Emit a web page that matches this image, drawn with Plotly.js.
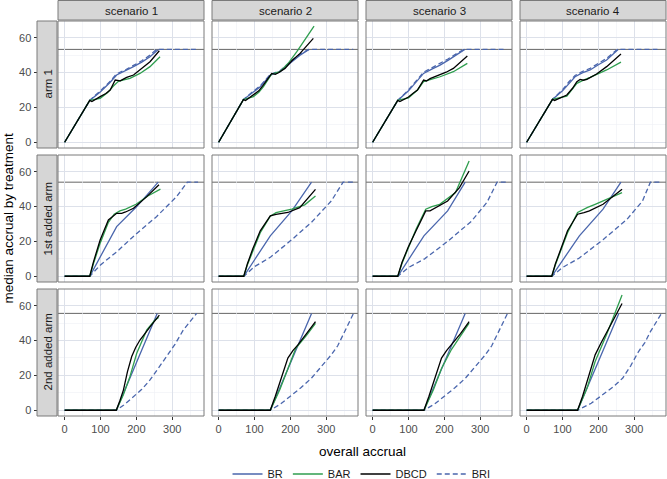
<!DOCTYPE html>
<html>
<head>
<meta charset="utf-8">
<script src="https://cdn.plot.ly/plotly-3.0.1.min.js"></script>
<style>html,body{margin:0;padding:0;background:#fff;}#chart{width:667px;height:479px;}</style>
</head>
<body>
<div id="chart"></div>
<script>
// ---------- data ----------
const scenarios = ['scenario 1', 'scenario 2', 'scenario 3', 'scenario 4'];
const arms = ['arm 1', '1st added arm', '2nd added arm'];
const designs = ['BR', 'BAR', 'DBCD', 'BRI'];
const targetByArm = [53.3, 54.0, 55.6];
const xTicks = [0, 100, 200, 300];
const yTicks = [0, 20, 40, 60];

// arm 1
const arm1_BR_x = [[0,70,100,125,145,170,192,215,238,261],[0,69,95,116,144,171,199,227,252],[0,70,100,122,142,165,188,210,234,257],[0,72,100,118,135,155,177,200,223,255]];
const arm1_BR_y = [[0,24,29,34,38.6,41,43.4,46,49.1,53.3],[0,24.5,28.5,31.9,38.6,40.5,45.3,50,53.3],[0,24,29.5,35,39.5,42,44.3,47,50,53.3],[0,24.6,29.5,34,37.6,39.8,41.5,44.5,47.2,53.3]];
const arm1_BRI_x = [[0,70,100,125,145,170,192,215,238,256,372],[0,69,95,116,144,171,199,227,252,375],[0,70,100,122,142,165,188,210,234,255,372],[0,72,100,118,135,155,177,200,223,253,371]];
const arm1_BRI_y = [[0,24,29.6,34.6,39.3,41.6,44.1,46.8,50,53.3,53.3],[0,24.5,29,32.4,39,41,46,50.6,53.3,53.3],[0,24,30.1,35.7,40.2,42.7,45.1,47.8,50.9,53.3,53.3],[0,24.6,30.1,34.7,38.3,40.6,42.4,45.3,48.2,53.3,53.3]];
const arm1_DBCD_x = [[0,70,76,85,99,115,127,141,155,165,173,192,210,238,264],[0,69,75,97,112,125,148,158,167,185,204,227,264],[0,70,76,88,100,112,125,142,150,160,188,205,225,264],[0,72,78,95,112,128,140,149,158,168,195,223,263]];
const arm1_DBCD_y = [[0,24,23.4,24.6,26.2,28,30,35.7,35.2,36.4,37.2,38.6,41.5,46.2,52.5],[0,24.5,23.9,27.1,29.5,32.9,39.5,39,39.9,42.4,46.8,51,59.6],[0,24,23.4,24.8,26,28,30,35.7,35.2,36.5,38.6,40.2,42.4,49.5],[0,24.6,24,25.6,27.1,31,34.8,36.1,35.6,36.1,39.2,43.4,50.6]];
const arm1_BAR_x = [[0,70,99,120,136,150,165,182,210,238,266],[0,69,97,112,125,148,171,194,218,245,266],[0,70,100,125,142,165,188,225,264],[0,72,112,128,140,160,177,223,263]];
const arm1_BAR_y = [[0,24,25.2,28.5,32.3,35,35.8,36.7,39.5,43.4,49.1],[0,24.5,26.2,28.7,31.9,39.2,40.5,45.3,52,60.6,66.7],[0,24,25.5,30,34.8,36.2,37.6,40.5,45.3],[0,24.6,26.5,30.5,33.8,35.8,37.2,41.5,46]];

// 1st added arm
const arm2_BR_x = [[0,70,145,201,261],[0,70,144,204,259],[0,70,143,209,258],[0,70,147,213,263]];
const arm2_BR_y = [[0,0,28.5,40,54],[0,0,23.2,37.5,54],[0,0,23.2,37.5,54],[0,0,23.2,38.5,54]];
const arm2_BRI_x = [[0,70,100,145,201,256,312,342,372],[0,70,100,145,204,259,314,347,380],[0,70,100,145,209,275,319,347,376],[0,70,100,147,213,279,323,345,378]];
const arm2_BRI_y = [[0,0,6.5,14,24.6,34.2,45.7,54,54],[0,0,5.5,11,21,31,43.2,54,54],[0,0,5,10,20,31.5,42.5,54,54],[0,0,5,10.5,21,32.5,43.2,54,54]];
const arm2_DBCD_x = [[0,70,80,99,122,145,159,170,192,229,263],[0,70,80,95,116,144,160,175,193,226,270],[0,70,82,99,121,148,160,170,209,242,269],[0,70,80,92,114,142,150,160,175,213,266]];
const arm2_DBCD_y = [[0,0,8,20.8,32.3,36.1,36.1,36.9,39,45.7,52.5],[0,0,7,15.6,26.1,34.7,35.5,35.8,36.6,39.4,49.9],[0,0,8,16.6,26.1,37.5,37.5,38.6,43.2,50.9,60.4],[0,0,7,14,26.1,35.6,35.9,36.5,37.5,41.3,49.9]];
const arm2_BAR_x = [[0,70,80,99,122,138,154,170,199,232,267],[0,70,80,95,116,144,160,175,204,240,270],[0,70,82,99,121,148,165,187,231,269],[0,70,80,92,114,142,155,170,191,266]];
const arm2_BAR_y = [[0,0,7,19,31,35.6,37.5,38.5,41.3,46.1,50],[0,0,6.5,14,25,34.5,36.5,37.2,38.5,41,46.1],[0,0,7.5,16,27,38.5,40,41.3,48,66.1],[0,0,6.5,13,25,36.6,38,39.5,41.3,48]];

// 2nd added arm
const arm3_BR_x = [[0,144,258],[0,144,259],[0,143,258],[0,142,257]];
const arm3_BR_y = [[0,0,55.6],[0,0,55.6],[0,0,55.6],[0,0,55.6]];
const arm3_BRI_x = [[0,144,165,192,215,238,260,284,308,331,368],[0,144,172,200,230,259,287,314,332,347,376],[0,143,172,200,230,259,287,314,332,347,376],[0,142,180,213,242,268,290,312,330,345,376]];
const arm3_BRI_y = [[0,0,3,7.8,12,17.4,23.5,30.8,38,46.1,55.6],[0,0,3.5,8,13,18.5,25,31.8,37,43.2,55.6],[0,0,3.5,8,13,18.5,25,31.8,37,43.2,55.6],[0,0,4,9,13.5,18.5,25.5,33.7,39,45.1,55.6]];
const arm3_DBCD_x = [[0,144,154,164,175,187,198,210,238,264],[0,144,158,171,182,193,207,221,245,270],[0,143,157,170,181,192,206,220,245,269],[0,142,156,169,180,191,207,224,245,266]];
const arm3_DBCD_y = [[0,0,5.5,11.7,22,30.8,36,40.3,47.9,54.6],[0,0,8,16.6,24,29.9,34.2,37.5,44,50.9],[0,0,8,16.6,24,29.9,34.2,37.5,44,50.9],[0,0,8,16.6,25,31.8,38.5,45.1,53,61.3]];
const arm3_BAR_x = [[0,144,164,182,201,229,252,262],[0,144,171,193,215,245,270],[0,143,170,192,220,245,269],[0,142,169,191,224,266]];
const arm3_BAR_y = [[0,0,9,19.3,32.7,46.1,51.8,53.3],[0,0,12,24,35.6,43,49.9],[0,0,12,24,35,43,50],[0,0,13,28,44,66.1]];

const seriesData = {
  BR:   [[arm1_BR_x, arm1_BR_y], [arm2_BR_x, arm2_BR_y], [arm3_BR_x, arm3_BR_y]],
  BAR:  [[arm1_BAR_x, arm1_BAR_y], [arm2_BAR_x, arm2_BAR_y], [arm3_BAR_x, arm3_BAR_y]],
  DBCD: [[arm1_DBCD_x, arm1_DBCD_y], [arm2_DBCD_x, arm2_DBCD_y], [arm3_DBCD_x, arm3_DBCD_y]],
  BRI:  [[arm1_BRI_x, arm1_BRI_y], [arm2_BRI_x, arm2_BRI_y], [arm3_BRI_x, arm3_BRI_y]]
};

// ---------- styles ----------
const styles = {
  BR:   {color: '#4a66ad', dash: 'solid'},
  BAR:  {color: '#2f9e4f', dash: 'solid'},
  DBCD: {color: '#000000', dash: 'solid'},
  BRI:  {color: '#4a66ad', dash: '5px,3px'}
};
const drawOrder = ['BRI', 'BR', 'BAR', 'DBCD'];

const W = 667, H = 479;
const colPx = [[58, 204], [212, 358], [366, 512], [520, 666]];
const rowPx = [[21, 148], [155, 282], [289, 416]];
const FONT = 'Liberation Sans, Arial, sans-serif';
const gridMajor = '#dde1ea', gridMinor = '#eef0f5', borderCol = '#7a7a7a';

const traces = [];
const layout = {
  width: W, height: H,
  margin: {l: 0, r: 0, t: 0, b: 0, autoexpand: false},
  paper_bgcolor: '#ffffff', plot_bgcolor: '#ffffff',
  font: {family: FONT, size: 11, color: '#4d4d4d'},
  showlegend: true,
  legend: {orientation: 'h', x: 0.542, xanchor: 'center', y: 1 - 474 / H, yanchor: 'middle',
           font: {family: FONT, size: 11, color: '#1a1a1a'}, itemwidth: 30, tracegroupgap: 0,
           bgcolor: 'rgba(0,0,0,0)'},
  shapes: [], annotations: []
};

for (let r = 0; r < 3; r++) {
  for (let c = 0; c < 4; c++) {
    const n = r * 4 + c + 1;
    const xa = 'xaxis' + (n === 1 ? '' : n), ya = 'yaxis' + (n === 1 ? '' : n);
    const xr = 'x' + (n === 1 ? '' : n), yr = 'y' + (n === 1 ? '' : n);
    const xd = [colPx[c][0] / W, colPx[c][1] / W];
    const yd = [1 - rowPx[r][1] / H, 1 - rowPx[r][0] / H];
    layout[xa] = {
      domain: xd, anchor: yr, range: [-18.5, 388.5],
      tickvals: xTicks, showticklabels: r === 2, ticks: r === 2 ? 'outside' : '',
      ticklen: 3, tickwidth: 1, tickcolor: '#333333',
      tickfont: {family: FONT, size: 11, color: '#4d4d4d'},
      showgrid: true, gridcolor: gridMajor, gridwidth: 1.1,
      minor: {dtick: 50, tick0: 0, showgrid: true, gridcolor: gridMinor, gridwidth: 0.6, ticks: ''},
      zeroline: false, showline: false, fixedrange: true
    };
    const yAx = {
      domain: yd, anchor: xr, range: [-3.3, 69.6],
      tickvals: yTicks, showticklabels: c === 0, ticks: c === 0 ? 'outside' : '',
      ticklen: 3, tickwidth: 1, tickcolor: '#333333',
      tickfont: {family: FONT, size: 11, color: '#4d4d4d'},
      showgrid: true, gridcolor: gridMajor, gridwidth: 1.1,
      minor: {dtick: 10, tick0: 0, showgrid: true, gridcolor: gridMinor, gridwidth: 0.6, ticks: ''},
      zeroline: false, showline: false, fixedrange: true
    };
    if (c === 0) { yAx.anchor = 'free'; yAx.position = 36.5 / W; }
    layout[ya] = yAx;

    // target line
    layout.shapes.push({type: 'line', xref: xr + ' domain', yref: yr, x0: 0, x1: 1,
      y0: targetByArm[r], y1: targetByArm[r], line: {color: '#555555', width: 0.9}, layer: 'below'});
    // panel border
    layout.shapes.push({type: 'rect', xref: xr + ' domain', yref: yr + ' domain', x0: 0, x1: 1, y0: 0, y1: 1,
      line: {color: borderCol, width: 1}, fillcolor: 'rgba(0,0,0,0)', layer: 'above'});

    for (const d of drawOrder) {
      const [xs, ys] = seriesData[d][r];
      traces.push({
        type: 'scatter', mode: 'lines', x: xs[c], y: ys[c], xaxis: xr, yaxis: yr,
        name: d, legendgroup: d, showlegend: n === 1,
        legendrank: designs.indexOf(d),
        line: {color: styles[d].color, dash: styles[d].dash, width: 1.3},
        hoverinfo: 'skip'
      });
    }
  }
}

// column strips
for (let c = 0; c < 4; c++) {
  layout.shapes.push({type: 'rect', xref: 'paper', yref: 'paper',
    x0: colPx[c][0] / W, x1: colPx[c][1] / W, y0: 1 - 20 / H, y1: 1 - 0.5 / H,
    fillcolor: '#d6d6d6', line: {color: borderCol, width: 1}});
  layout.annotations.push({xref: 'paper', yref: 'paper', x: (colPx[c][0] + colPx[c][1]) / 2 / W,
    y: 1 - 10.5 / H, text: scenarios[c], showarrow: false,
    font: {family: FONT, size: 11.5, color: '#1a1a1a'}, xanchor: 'center', yanchor: 'middle'});
}
// row strips
for (let r = 0; r < 3; r++) {
  layout.shapes.push({type: 'rect', xref: 'paper', yref: 'paper',
    x0: 37 / W, x1: 57 / W, y0: 1 - rowPx[r][1] / H, y1: 1 - rowPx[r][0] / H,
    fillcolor: '#d6d6d6', line: {color: borderCol, width: 1}});
  layout.annotations.push({xref: 'paper', yref: 'paper', x: 47 / W,
    y: 1 - (rowPx[r][0] + rowPx[r][1]) / 2 / H, text: arms[r], showarrow: false, textangle: -90,
    font: {family: FONT, size: 11.5, color: '#1a1a1a'}, xanchor: 'center', yanchor: 'middle'});
}
// axis titles
layout.annotations.push({xref: 'paper', yref: 'paper', x: 362 / W, y: 1 - 451 / H,
  text: 'overall accrual', showarrow: false, font: {family: FONT, size: 13.5, color: '#000000'},
  xanchor: 'center', yanchor: 'middle'});
layout.annotations.push({xref: 'paper', yref: 'paper', x: 8 / W, y: 1 - 218.5 / H,
  text: 'median accrual by treatment', showarrow: false, textangle: -90,
  font: {family: FONT, size: 13.5, color: '#000000'}, xanchor: 'center', yanchor: 'middle'});

Plotly.newPlot('chart', traces, layout, {staticPlot: true, displayModeBar: false});
</script>
</body>
</html>
